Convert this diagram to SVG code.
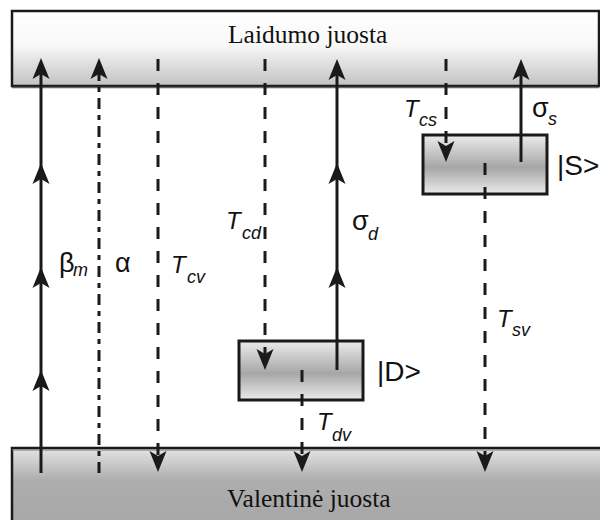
<svg xmlns="http://www.w3.org/2000/svg" xmlns:xlink="http://www.w3.org/1999/xlink" width="600" height="520" viewBox="0 0 600 520">
  <style>
    .band { stroke: #1a1a1a; stroke-width: 2.5; }
    .level { stroke: #1a1a1a; stroke-width: 3; }
    .band-label { font-family: "Liberation Serif", "Times New Roman", serif; font-size: 25.5px; fill: #111; }
    .ln { stroke: #1a1a1a; stroke-width: 3; fill: none; }
    .dash { stroke-dasharray: 12 12; }
    .dashdot { stroke-dasharray: 11 6 5 6; }
    .ah { fill: #1a1a1a; }
    .lab { font-family: "Liberation Sans", Arial, sans-serif; font-size: 24px; fill: #111; }
    .gr { font-family: "Liberation Sans", Arial, sans-serif; font-size: 27px; fill: #111; }
    .it { font-style: italic; }
    .sub { font-family: "Liberation Sans", Arial, sans-serif; font-size: 18px; font-style: italic; fill: #111; }
    .ket { font-family: "Liberation Sans", Arial, sans-serif; font-size: 28px; fill: #111; }
  </style>
  <defs>
    <linearGradient id="gTop" x1="0" y1="0" x2="0" y2="1">
      <stop offset="0" stop-color="#ffffff"/>
      <stop offset="0.45" stop-color="#f8f8f8"/>
      <stop offset="1" stop-color="#c2c2c2"/>
    </linearGradient>
    <linearGradient id="gBot" x1="0" y1="0" x2="0" y2="1">
      <stop offset="0" stop-color="#e4e4e4"/>
      <stop offset="0.4" stop-color="#aeaeae"/>
      <stop offset="1" stop-color="#a6a6a6"/>
    </linearGradient>
    <linearGradient id="gLevel" x1="0" y1="0" x2="0" y2="1">
      <stop offset="0" stop-color="#ececec"/>
      <stop offset="0.55" stop-color="#a6a6a6"/>
      <stop offset="1" stop-color="#ececec"/>
    </linearGradient>
    <path id="up" class="ah" d="M0,0 L8.5,21 L0,16 L-8.5,21 Z"/>
    <path id="dn" class="ah" d="M0,0 L8.5,-21 L0,-16 L-8.5,-21 Z"/>
  </defs>

  <!-- conduction band -->
  <g id="conduction-band">
    <rect x="12" y="11" width="587" height="75" fill="url(#gTop)" class="band"/>
    <line x1="12" y1="87.5" x2="599" y2="87.5" stroke="#666" stroke-width="1.5"/>
    <text class="band-label" x="228" y="43">Laidumo juosta</text>
  </g>

  <!-- valence band -->
  <g id="valence-band">
    <rect x="12" y="448" width="590" height="80" fill="url(#gBot)" class="band"/>
    <line x1="12" y1="450" x2="600" y2="450" stroke="#777" stroke-width="1"/>
    <text class="band-label" x="227" y="507">Valentinė juosta</text>
  </g>

  <!-- shallow level |S> -->
  <g id="level-s">
    <rect x="423" y="135" width="124" height="59" fill="url(#gLevel)" class="level"/>
    <text class="ket" x="557" y="175">|S&gt;</text>
  </g>

  <!-- deep level |D> -->
  <g id="level-d">
    <rect x="239" y="341" width="124" height="59" fill="url(#gLevel)" class="level"/>
    <text class="ket" x="377" y="381">|D&gt;</text>
  </g>

  <!-- transitions -->
  <g id="connectors">
    <!-- beta_m : band-to-band excitation -->
    <line class="ln" x1="41" y1="473" x2="41" y2="64"/>
    <use xlink:href="#up" x="41" y="58"/>
    <use xlink:href="#up" x="41" y="163"/>
    <use xlink:href="#up" x="41" y="267"/>
    <use xlink:href="#up" x="41" y="370"/>

    <!-- alpha -->
    <line class="ln dashdot" x1="99" y1="473" x2="99" y2="64"/>
    <use xlink:href="#up" x="99" y="58"/>

    <!-- T_cv -->
    <line class="ln dash" x1="158" y1="59" x2="158" y2="466"/>
    <use xlink:href="#dn" x="158" y="472"/>

    <!-- T_cd -->
    <line class="ln dash" x1="265" y1="59" x2="265" y2="364"/>
    <use xlink:href="#dn" x="265" y="370"/>

    <!-- sigma_d -->
    <line class="ln" x1="337" y1="370" x2="337" y2="64"/>
    <use xlink:href="#up" x="337" y="59"/>
    <use xlink:href="#up" x="337" y="163"/>
    <use xlink:href="#up" x="337" y="267"/>

    <!-- T_dv -->
    <line class="ln dash" x1="302" y1="370" x2="302" y2="466"/>
    <use xlink:href="#dn" x="302" y="472"/>

    <!-- T_cs -->
    <line class="ln dash" x1="446" y1="59" x2="446" y2="156"/>
    <use xlink:href="#dn" x="446" y="162"/>

    <!-- sigma_s -->
    <line class="ln" x1="521" y1="162" x2="521" y2="64"/>
    <use xlink:href="#up" x="521" y="59"/>

    <!-- T_sv -->
    <line class="ln dash" x1="485" y1="163" x2="485" y2="466"/>
    <use xlink:href="#dn" x="485" y="472"/>
  </g>

  <!-- rate labels -->
  <g id="labels">
    <text class="gr" x="59" y="272" font-size="26">β</text><text class="sub" x="73" y="276">m</text>
    <text class="gr" x="115" y="272">α</text>
    <text class="lab it" x="171" y="273">T</text><text class="sub" x="187" y="283">cv</text>
    <text class="lab it" x="226" y="229">T</text><text class="sub" x="242" y="239">cd</text>
    <text class="gr" x="352" y="230">σ</text><text class="sub" x="368" y="240">d</text>
    <text class="lab it" x="404" y="117">T</text><text class="sub" x="419" y="126">cs</text>
    <text class="gr" x="532" y="117">σ</text><text class="sub" x="548" y="125">s</text>
    <text class="lab it" x="317" y="430">T</text><text class="sub" x="332" y="441">dv</text>
    <text class="lab it" x="497" y="327">T</text><text class="sub" x="512" y="336">sv</text>
  </g>
</svg>
